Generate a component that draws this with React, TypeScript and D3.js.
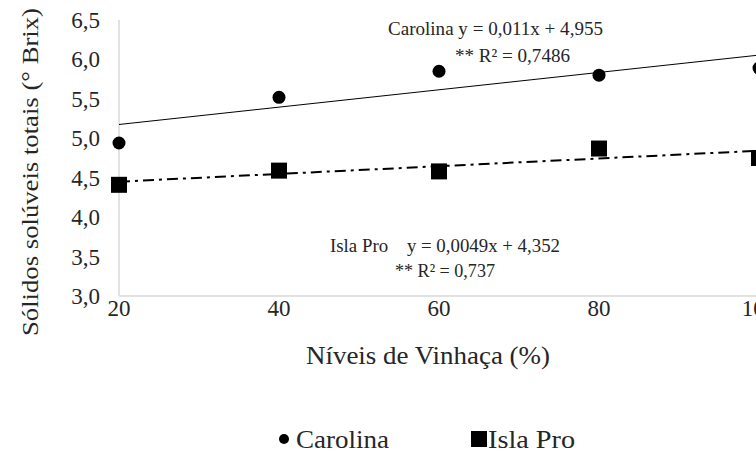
import React from 'react'
import * as d3 from 'd3'

// vinhaça levels (%)
const niveis = [20, 40, 60, 80, 100]
const carolina = [4.94, 5.52, 5.85, 5.8, 5.89]
const islaPro = [4.41, 4.59, 4.58, 4.87, 4.75]
const yTicks = [3.0, 3.5, 4.0, 4.5, 5.0, 5.5, 6.0, 6.5]

// fitted trend lines shown in the chart
const carolinaFit = { a: 0.011, b: 4.955 }
const islaFit = { a: 0.0049, b: 4.352 }

const W = 756
const H = 454
const font = '"Liberation Serif", "Times New Roman", serif'
const ink = '#262626'
const fmt = (v: number) => d3.format('.1f')(v).replace('.', ',')

export default function App () {
  const x = d3.scaleLinear().domain([20, 100]).range([119, 759])
  const y = d3.scaleLinear().domain([3, 6.5]).range([296, 20])

  const fitLine = (f: { a: number, b: number }) =>
    d3.line<number>().x(d => x(d)).y(d => y(f.a * d + f.b))([20, 100]) || ''

  return (
    <svg width={W} height={H} style={{ position: 'absolute', left: 0, top: 0, background: '#fff' }}
      fontFamily={font}>
      {/* axes */}
      <line x1={x(20)} x2={x(100) + 10} y1={y(3)} y2={y(3)} stroke='#d9d9d9' strokeWidth={1.5} />
      <line x1={x(20)} x2={x(20)} y1={y(6.5)} y2={y(3)} stroke='#d9d9d9' strokeWidth={1.5} />

      {yTicks.map(t => (
        <text key={t} x={100} y={y(t)} dy='0.35em' textAnchor='end' fontSize={23} fill={ink}>{fmt(t)}</text>
      ))}
      {niveis.map(t => (
        <text key={t} x={x(t)} y={316} textAnchor='middle' fontSize={23} fill={ink}>{t}</text>
      ))}

      <text transform={'translate(38,172) rotate(-90)'} textAnchor='middle' fontSize={24} fill={ink}
        textLength={328} lengthAdjust='spacingAndGlyphs'>
        Sólidos solúveis totais (° Brix)
      </text>
      <text x={428} y={364} textAnchor='middle' fontSize={25} fill={ink}
        textLength={244} lengthAdjust='spacingAndGlyphs'>Níveis de Vinhaça (%)</text>

      {/* trend lines */}
      <path d={fitLine(carolinaFit)} fill='none' stroke='#000' strokeWidth={1} />
      <path d={fitLine(islaFit)} fill='none' stroke='#000' strokeWidth={2} strokeDasharray='11 5 3 5' />

      {/* points */}
      {niveis.map((n, i) => (
        <circle key={'c' + n} cx={x(n)} cy={y(carolina[i])} r={6.5} fill='#000' />
      ))}
      {niveis.map((n, i) => (
        <rect key={'s' + n} x={x(n) - 8} y={y(islaPro[i]) - 8} width={16} height={16} fill='#000' />
      ))}

      {/* equations */}
      <text x={388} y={35} fontSize={19} fill={ink} textLength={215} lengthAdjust='spacingAndGlyphs'>
        Carolina y = 0,011x + 4,955
      </text>
      <text x={455} y={62} fontSize={19} fill={ink} textLength={115} lengthAdjust='spacingAndGlyphs'>
        ** R² = 0,7486
      </text>
      <text x={330} y={252} fontSize={19} fill={ink} xmlSpace='preserve' textLength={230}
        lengthAdjust='spacingAndGlyphs'>Isla Pro    y = 0,0049x + 4,352</text>
      <text x={395} y={277} fontSize={19} fill={ink} textLength={100} lengthAdjust='spacingAndGlyphs'>
        ** R² = 0,737
      </text>

      {/* legend */}
      <circle cx={284} cy={439} r={5} fill='#000' />
      <text x={296} y={448} fontSize={25} fill={ink} textLength={93} lengthAdjust='spacingAndGlyphs'>Carolina</text>
      <rect x={471} y={431} width={16} height={16} fill='#000' />
      <text x={488} y={448} fontSize={25} fill={ink} textLength={87} lengthAdjust='spacingAndGlyphs'>Isla Pro</text>
    </svg>
  )
}
